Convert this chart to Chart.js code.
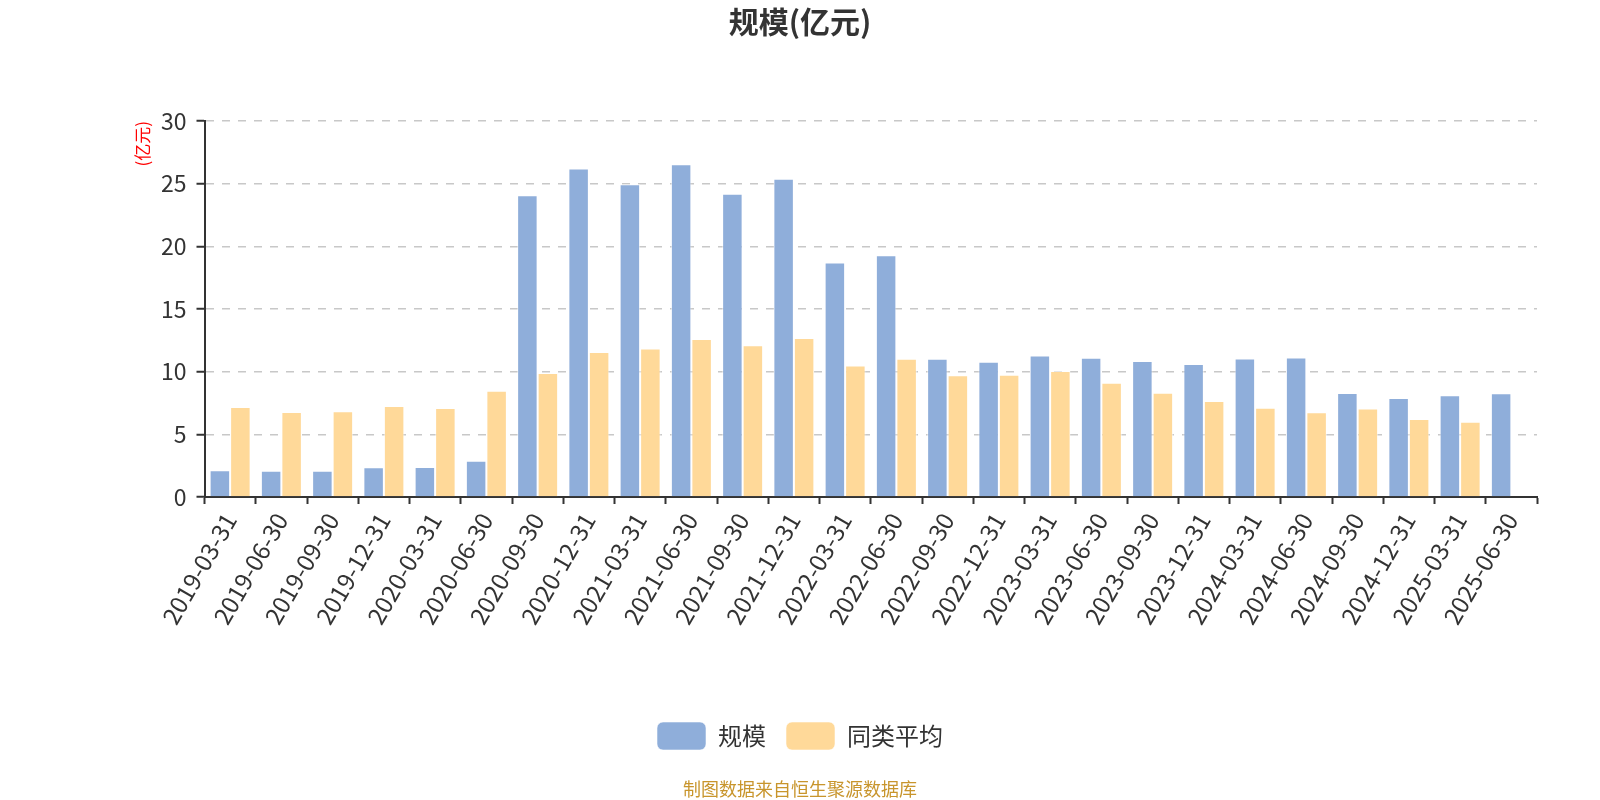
<!DOCTYPE html>
<html><head><meta charset="utf-8">
<script src="https://cdn.jsdelivr.net/npm/chart.js@4.4.1/dist/chart.umd.min.js"></script>
<style>html,body{margin:0;padding:0;background:#fff}canvas{display:block}</style>
</head><body>
<canvas id="c" width="1600" height="800"></canvas>
<script>
const categories = ['2019-03-31','2019-06-30','2019-09-30','2019-12-31','2020-03-31','2020-06-30','2020-09-30','2020-12-31','2021-03-31','2021-06-30','2021-09-30','2021-12-31','2022-03-31','2022-06-30','2022-09-30','2022-12-31','2023-03-31','2023-06-30','2023-09-30','2023-12-31','2024-03-31','2024-06-30','2024-09-30','2024-12-31','2025-03-31','2025-06-30'];
const scaleValues = [2.13,2.1,2.1,2.37,2.39,2.9,24.07,26.22,24.95,26.54,24.2,25.4,18.72,19.28,11.04,10.8,11.28,11.12,10.85,10.61,11.06,11.14,8.3,7.9,8.11,8.27];
const peerAverage = [7.18,6.78,6.84,7.26,7.1,8.48,9.89,11.57,11.84,12.61,12.1,12.69,10.5,11.04,9.71,9.76,10.05,9.12,8.32,7.66,7.13,6.76,7.07,6.22,6.0,null];
const yTicks = [0,5,10,15,20,25,30];
const seriesNames = ['规模','同类平均'];
const titleText = '规模(亿元)';
const yTitle = '(亿元)';
const footerText = '制图数据来自恒生聚源数据库';

const FONT = "'Noto Sans CJK SC','Noto Sans',sans-serif";
Chart.defaults.font.family = FONT;

new Chart(document.getElementById('c'), {
  type: 'bar',
  data: {
    labels: categories,
    datasets: [
      {label: seriesNames[0], data: scaleValues, backgroundColor: '#8faeda', borderColor: 'rgba(255,255,255,0.55)', borderWidth: 1, categoryPercentage: 0.8, barPercentage: 1.0},
      {label: seriesNames[1], data: peerAverage, backgroundColor: '#ffd999', borderColor: 'rgba(255,255,255,0.55)', borderWidth: 1, categoryPercentage: 0.8, barPercentage: 1.0}
    ]
  },
  options: {
    responsive: false,
    devicePixelRatio: 1,
    animation: false,
    layout: {padding: 0},
    plugins: {
      title: {display: true, text: titleText, color: '#333', font: {size: 30, weight: 'bold', family: FONT}, padding: {top: 4, bottom: 81}},
      subtitle: {display: true, text: footerText, position: 'bottom', color: '#c8952c', font: {size: 18, family: FONT}, padding: {top: 18.4, bottom: 0}},
      legend: {position: 'bottom', labels: {boxWidth: 49, boxHeight: 28, padding: 20, color: '#333', font: {size: 24, family: FONT}, useBorderRadius: true, borderRadius: 6}},
      tooltip: {enabled: false}
    },
    scales: {
      x: {
        type: 'category',
        grid: {display: true, drawOnChartArea: false, drawTicks: true, tickLength: 7, tickColor: '#333', tickWidth: 2, offset: true},
        border: {display: true, color: '#333', width: 2},
        ticks: {autoSkip: false, maxRotation: 60, minRotation: 60, color: '#333', font: {size: 24, family: FONT}, padding: 4},
        afterFit: s => { s.height = 205; }
      },
      y: {
        position: 'left',
        min: 0, max: 30,
        afterBuildTicks: s => { s.ticks = yTicks.map(v => ({value: v})); },
        grid: {color: '#c8c8c8', lineWidth: 1.5, drawTicks: true, tickLength: 8, tickColor: '#333', tickWidth: 2},
        border: {display: true, color: '#333', width: 2, dash: [8, 8]},
        ticks: {color: '#333', font: {size: 23, family: FONT}, padding: 10},
        title: {display: true, text: yTitle, color: '#ff0000', align: 'end', font: {size: 17, family: FONT}, padding: {top: 132.8, bottom: 0}},
        afterFit: s => { s.width = 204.5; }
      },
      yR: {
        position: 'right', display: true,
        grid: {display: false, drawTicks: false},
        border: {display: false},
        ticks: {display: false},
        afterFit: s => { s.width = 63; }
      }
    }
  }
});
</script>
</body></html>
